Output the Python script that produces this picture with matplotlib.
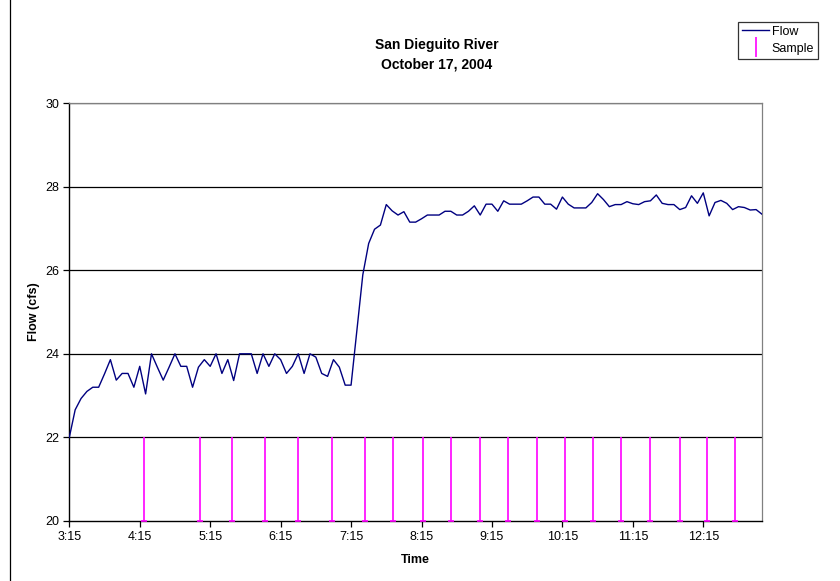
import matplotlib
matplotlib.use("Agg")
import matplotlib.pyplot as plt
from matplotlib.lines import Line2D
import numpy as np
import pandas as pd

plt.rcParams["font.family"] = ["Liberation Sans", "DejaVu Sans"]

TITLE = "San Dieguito River\nOctober 17, 2004"

# flow readings every 5 minutes, starting 3:15
START = "3:15"
FLOW = [
    22.00, 22.66, 22.93, 23.10, 23.20, 23.20, 23.52, 23.86, 23.37, 23.53,
    23.53, 23.20, 23.70, 23.04, 24.00, 23.68, 23.37, 23.68, 24.00, 23.70,
    23.70, 23.20, 23.68, 23.86, 23.70, 24.00, 23.53, 23.86, 23.36, 24.00,
    24.00, 24.00, 23.53, 24.00, 23.70, 24.00, 23.86, 23.53, 23.70, 24.00,
    23.53, 24.00, 23.92, 23.53, 23.46, 23.86, 23.68, 23.25, 23.25, 24.57,
    25.89, 26.64, 26.98, 27.08, 27.57, 27.42, 27.32, 27.40, 27.15, 27.15,
    27.23, 27.32, 27.32, 27.32, 27.41, 27.41, 27.32, 27.32, 27.41, 27.54,
    27.32, 27.58, 27.58, 27.41, 27.66, 27.58, 27.58, 27.58, 27.66, 27.75,
    27.75, 27.58, 27.58, 27.46, 27.75, 27.58, 27.49, 27.49, 27.49, 27.62,
    27.83, 27.69, 27.52, 27.57, 27.57, 27.64, 27.59, 27.57, 27.64, 27.66,
    27.80, 27.60, 27.57, 27.57, 27.45, 27.50, 27.78, 27.60, 27.85, 27.30,
    27.62, 27.67, 27.60, 27.45, 27.52, 27.50, 27.44, 27.45, 27.34,
]

SAMPLE_TIMES = [
    "4:19", "5:06", "5:34", "6:02", "6:30", "6:59", "7:27", "7:51",
    "8:16", "8:40", "9:05", "9:29", "9:53", "10:17", "10:41", "11:05",
    "11:30", "11:55", "12:18", "12:42",
]
SAMPLE_LEVEL = 22

TICK_LABELS = ["3:15", "4:15", "5:15", "6:15", "7:15", "8:15",
               "9:15", "10:15", "11:15", "12:15"]
Y_TICKS = [20, 22, 24, 26, 28, 30]


def to_hours(s):
    h, m = s.split(":")
    return int(h) + int(m) / 60


start = to_hours(START)
flow_x = start + np.arange(len(FLOW)) * 5 / 60
sample_x = np.array([to_hours(t) for t in SAMPLE_TIMES])
tick_x = [to_hours(t) for t in TICK_LABELS]

fig = plt.figure(figsize=(8.4, 5.81), dpi=100)
ax = fig.add_axes([0.0825, 0.1033, 0.8246, 0.7194])

for y in Y_TICKS[1:]:
    ax.axhline(y, color="black", lw=0.9, zorder=1)

ax.plot(flow_x, FLOW, color="#000080", lw=1.0, zorder=3)
ax.vlines(sample_x, 20, SAMPLE_LEVEL, color="#FF00FF", lw=1.2, zorder=4)
ax.plot(sample_x, np.full(len(sample_x), 20), ls="none", marker="_",
        color="#FF00FF", ms=5, mew=1.2, zorder=5, clip_on=False)

ax.set_xlim(start, flow_x[-1])
ax.set_ylim(20, 30)
ax.set_xticks(tick_x)
ax.set_xticklabels(TICK_LABELS, fontsize=9)
ax.set_yticks(Y_TICKS)
ax.set_yticklabels([str(v) for v in Y_TICKS], fontsize=9)
ax.tick_params(direction="out", length=4, width=0.9, color="black", pad=3)

for side in ["top", "right"]:
    ax.spines[side].set_color("#808080")
    ax.spines[side].set_linewidth(0.9)
for side in ["left", "bottom"]:
    ax.spines[side].set_color("black")
    ax.spines[side].set_linewidth(1.0)

ax.set_xlabel("Time", fontsize=9, fontweight="bold", labelpad=8)
ax.set_ylabel("Flow (cfs)", fontsize=9, fontweight="bold", labelpad=4)

fig.text(437 / 840, 1 - 55 / 581, TITLE, ha="center", va="center",
         fontsize=10, fontweight="bold", linespacing=1.5)

handles = [
    Line2D([0], [0], color="#000080", lw=1.0),
    Line2D([0], [0], color="#FF00FF", lw=0, marker="|", ms=14, mew=1.2),
]
leg = fig.legend(handles, ["Flow", "Sample"], loc="upper right",
                 bbox_to_anchor=(818 / 840, 1 - 22 / 581), fontsize=9,
                 frameon=True, fancybox=False, borderpad=0.3,
                 handlelength=2.2, handletextpad=0.2, labelspacing=0.4,
                 borderaxespad=0)
leg.get_frame().set_edgecolor("black")
leg.get_frame().set_linewidth(0.9)

fig.add_artist(Line2D([10 / 840, 10 / 840], [0, 1], color="black", lw=0.9,
                      transform=fig.transFigure))

fig.savefig("out.png", dpi=100)
